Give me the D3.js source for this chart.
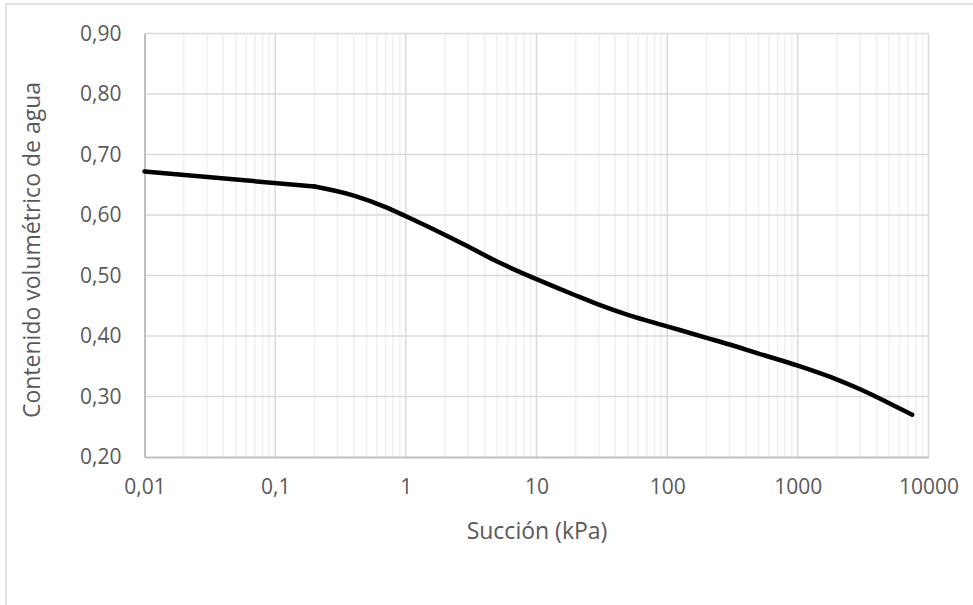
<!DOCTYPE html>
<html>
<head>
<meta charset="utf-8">
<script src="https://cdn.jsdelivr.net/npm/d3@7"></script>
<style>
  html, body { margin: 0; padding: 0; background: #fff; }
  svg { display: block; }
  text { font-family: "Open Sans", "Liberation Sans", sans-serif; fill: #595959; }
</style>
</head>
<body>
<svg id="chart" width="973" height="605"></svg>
<script>
// ---- data ----
const suction = [0.01, 0.2, 0.4, 0.7, 1, 2, 3, 5, 10, 20, 30, 50, 100, 200, 300, 500, 1000, 2000, 3000, 5000, 7500];
const waterContent = [0.672, 0.647, 0.632, 0.613, 0.598, 0.567, 0.548, 0.523, 0.494, 0.467, 0.452, 0.435, 0.416, 0.397, 0.386, 0.371, 0.351, 0.328, 0.312, 0.289, 0.270];
const xTickValues = [0.01, 0.1, 1, 10, 100, 1000, 10000];
const xTickLabels = ["0,01", "0,1", "1", "10", "100", "1000", "10000"];
const yTickValues = [0.2, 0.3, 0.4, 0.5, 0.6, 0.7, 0.8, 0.9];
const yTickLabels = ["0,20", "0,30", "0,40", "0,50", "0,60", "0,70", "0,80", "0,90"];
const xTitle = "Succión (kPa)";
const yTitle = "Contenido volumétrico de agua";

// ---- layout ----
const svg = d3.select("#chart");
const pLeft = 144.5, pRight = 928.5, pTop = 33.5, pBottom = 457;

// outer chart border (only top/left visible in the frame)
svg.append("rect").attr("x", 6).attr("y", 4).attr("width", 1000).attr("height", 700)
  .attr("fill", "none").attr("stroke", "#d9d9d9").attr("stroke-width", 1.5);

const x = d3.scaleLog().domain([0.01, 10000]).range([pLeft, pRight]);
const y = d3.scaleLinear().domain([0.2, 0.9]).range([pBottom, pTop]);

// minor vertical gridlines
const minor = [];
for (let e = -2; e < 4; e++) {
  for (let k = 2; k <= 9; k++) minor.push(k * Math.pow(10, e));
}
svg.append("g").selectAll("line").data(minor).join("line")
  .attr("x1", d => x(d)).attr("x2", d => x(d))
  .attr("y1", pTop).attr("y2", pBottom)
  .attr("stroke", "#f0f0f0").attr("stroke-width", 1.5);

// major vertical gridlines
svg.append("g").selectAll("line").data(xTickValues.slice(1)).join("line")
  .attr("x1", d => x(d)).attr("x2", d => x(d))
  .attr("y1", pTop).attr("y2", pBottom)
  .attr("stroke", "#d9d9d9").attr("stroke-width", 1.5);

// horizontal gridlines
svg.append("g").selectAll("line").data(yTickValues.slice(1)).join("line")
  .attr("x1", pLeft).attr("x2", pRight)
  .attr("y1", d => y(d)).attr("y2", d => y(d))
  .attr("stroke", "#d9d9d9").attr("stroke-width", 1.5);

// axes
const xAxis = d3.axisBottom(x).tickValues(xTickValues)
  .tickFormat((d, i) => xTickLabels[i]).tickSize(0).tickPadding(22);
const gx = svg.append("g").attr("transform", `translate(0,${pBottom})`).call(xAxis);
gx.select(".domain").attr("stroke", "#bfbfbf").attr("stroke-width", 2);
gx.selectAll("text").attr("font-size", 21).attr("fill", "#595959")
  .attr("font-family", "'Open Sans', sans-serif");

const yAxis = d3.axisLeft(y).tickValues(yTickValues)
  .tickFormat((d, i) => yTickLabels[i]).tickSize(0).tickPadding(23);
const gy = svg.append("g").attr("transform", `translate(${pLeft},0)`).call(yAxis);
gy.select(".domain").attr("stroke", "#bfbfbf").attr("stroke-width", 2);
gy.selectAll("text").attr("font-size", 21).attr("fill", "#595959")
  .attr("font-family", "'Open Sans', sans-serif");

// data line: straight first segment, smooth curve afterwards
const pts = suction.map((s, i) => [s, waterContent[i]]);
const straight = d3.line().x(d => x(d[0])).y(d => y(d[1])).curve(d3.curveLinear);
const smooth = d3.line().x(d => x(d[0])).y(d => y(d[1])).curve(d3.curveMonotoneX);
const lineG = svg.append("g").attr("fill", "none").attr("stroke", "#000")
  .attr("stroke-width", 4.5).attr("stroke-linecap", "round").attr("stroke-linejoin", "round");
lineG.append("path").datum(pts.slice(0, 2)).attr("d", straight);
lineG.append("path").datum(pts.slice(1)).attr("d", smooth);

// titles
svg.append("text").attr("x", 537).attr("y", 539).attr("text-anchor", "middle")
  .attr("font-size", 23).text(xTitle);
svg.append("text").attr("transform", "translate(40,250) rotate(-90)")
  .attr("text-anchor", "middle").attr("font-size", 23).text(yTitle);
</script>
</body>
</html>
